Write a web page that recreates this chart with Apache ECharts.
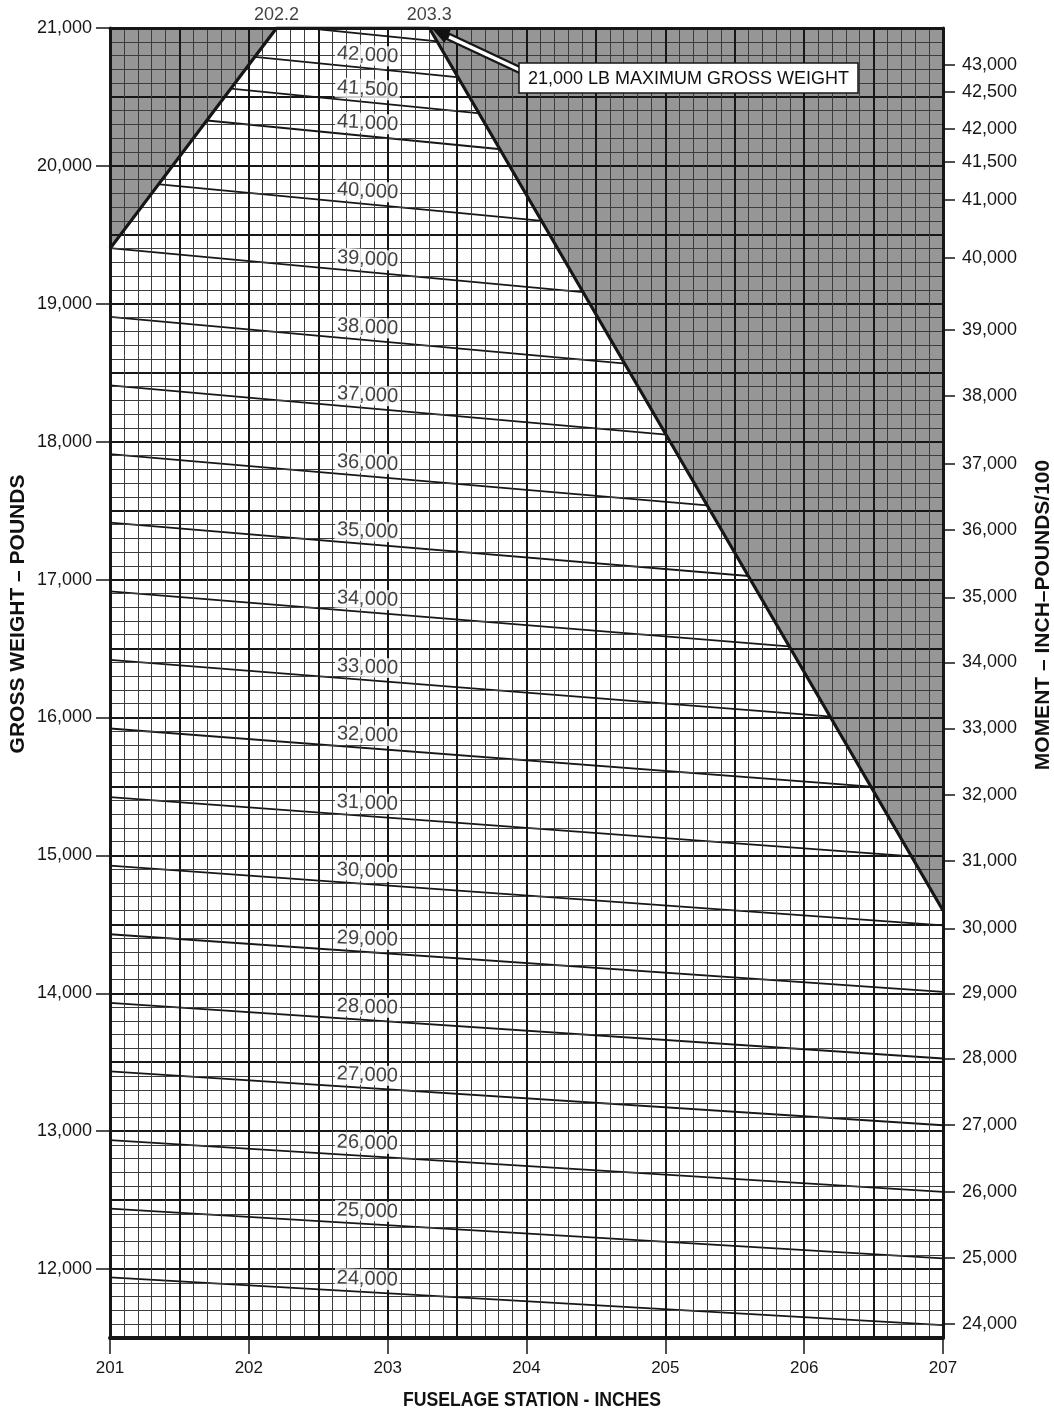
<!DOCTYPE html>
<html><head><meta charset="utf-8">
<style>html,body{margin:0;padding:0;background:#fff}#c{width:1054px;height:1414px}</style>
<script src="https://cdn.jsdelivr.net/npm/echarts@6/dist/echarts.min.js"></script>
</head><body><div id="c"></div>
<script>
// ---- data ----
const xTicks = [201, 202, 203, 204, 205, 206, 207];
const leftTicks = [12000, 13000, 14000, 15000, 16000, 17000, 18000, 19000, 20000, 21000];
const momentValues = [24000, 25000, 26000, 27000, 28000, 29000, 30000, 31000, 32000, 33000, 34000, 35000, 36000, 37000, 38000, 39000, 40000, 41000, 41500, 42000, 42500];
const weightAt201  = [11940, 12438, 12935, 13433, 13930, 14428, 14925, 15423, 15920, 16418, 16915, 17413, 17910, 18408, 18905, 19403, 19900, 20398, 20647, 20896, 21144];
const weightAt207  = [11594, 12077, 12560, 13043, 13527, 14010, 14493, 14976, 15459, 15942, 16425, 16908, 17391, 17874, 18357, 18841, 19324, 19807, 20048, 20290, 20531];
const labeledMoments = [24000, 25000, 26000, 27000, 28000, 29000, 30000, 31000, 32000, 33000, 34000, 35000, 36000, 37000, 38000, 39000, 40000, 41000, 41500, 42000];
const rightTickMoments = [24000, 25000, 26000, 27000, 28000, 29000, 30000, 31000, 32000, 33000, 34000, 35000, 36000, 37000, 38000, 39000, 40000, 41000, 41500, 42000, 42500, 43000];
const rightTickWeights = [11600, 12080, 12560, 13043, 13527, 14000, 14470, 14960, 15440, 15920, 16400, 16870, 17360, 17840, 18330, 18810, 19333, 19754, 20029, 20268, 20536, 20732];
const envelopeStation = [201, 202.2, 203.3, 207];
const envelopeWeight  = [19400, 21000, 21000, 14600];
const topLabelStations = [202.2, 203.3];
const topLabels = ['202.2', '203.3'];
const maxGrossText = '21,000 LB MAXIMUM GROSS WEIGHT';
const labelStation = 202.85;

const FONT = '"Liberation Sans", Arial, Helvetica, sans-serif';
const INK = '#161616';
const X_MIN = 201, X_MAX = 207, Y_MIN = 11500, Y_MAX = 21000;
const G = {left: 110, right: 111, top: 28, bottom: 76};
const pxPerIn = (1054 - G.left - G.right) / (X_MAX - X_MIN);
const pxPerLb = (1414 - G.top - G.bottom) / (Y_MAX - Y_MIN);
const fmt = v => Math.round(v).toLocaleString('en-US');

const chart = echarts.init(document.getElementById('c'), null, {renderer: 'canvas'});

const momentSeries = momentValues.map((m, i) => ({
  type: 'line', name: 'M' + m, z: 1, silent: true, clip: true,
  symbol: 'none', animation: false,
  lineStyle: {color: INK, width: 1.8},
  data: [[X_MIN, weightAt201[i]], [X_MAX, weightAt207[i]]]
}));

const labelData = labeledMoments.map(m => {
  const i = momentValues.indexOf(m);
  const w = weightAt201[i] + (weightAt207[i] - weightAt201[i]) * (labelStation - X_MIN) / (X_MAX - X_MIN);
  const slope = (weightAt201[i] - weightAt207[i]) / (X_MAX - X_MIN) * pxPerLb / pxPerIn;
  const ang = Math.atan(slope) * 180 / Math.PI * 0.6;
  return {value: [labelStation, w, m], label: {rotate: -ang}};
});

const leftShade = [[envelopeStation[0], envelopeWeight[0]], [envelopeStation[1], envelopeWeight[1]], [X_MIN, Y_MAX]];
const rightShade = [[envelopeStation[2], envelopeWeight[2]], [envelopeStation[3], envelopeWeight[3]], [X_MAX, Y_MAX]];

const majorLine = {show: true, lineStyle: {color: INK, width: 2}};
const minorLine = {show: true, lineStyle: {color: '#3c3c3c', width: 1}};

const option = {
  animation: false,
  backgroundColor: '#fff',
  textStyle: {fontFamily: FONT},
  grid: {left: G.left, right: G.right, top: G.top, bottom: G.bottom, containLabel: false},
  xAxis: [{
    type: 'value', min: X_MIN, max: X_MAX, interval: 1, position: 'bottom', z: 3,
    axisLine: {show: true, onZero: false, lineStyle: {color: INK, width: 4}},
    axisTick: {show: true, length: 16, lineStyle: {color: INK, width: 1.5}},
    axisLabel: {margin: 22, fontSize: 17, color: INK, fontFamily: FONT, formatter: v => String(Math.round(v))},
    splitLine: {show: false}
  }, {
    type: 'value', min: X_MIN, max: X_MAX, interval: 0.5, position: 'top', z: 3,
    axisLine: {show: true, onZero: false, lineStyle: {color: INK, width: 3}},
    axisTick: {show: false}, axisLabel: {show: false},
    splitLine: majorLine,
    minorTick: {show: false, splitNumber: 5},
    minorSplitLine: minorLine
  }],
  yAxis: [{
    type: 'value', min: Y_MIN, max: Y_MAX, interval: 500, position: 'left', z: 3,
    axisLine: {show: true, onZero: false, lineStyle: {color: INK, width: 3}},
    axisTick: {show: true, customValues: leftTicks, length: 14, lineStyle: {color: INK, width: 1.5}},
    axisLabel: {customValues: leftTicks, margin: 18, fontSize: 18, color: INK, fontFamily: FONT, formatter: v => fmt(v)},
    splitLine: {show: false}
  }, {
    type: 'value', min: Y_MIN, max: Y_MAX, position: 'right', z: 3,
    axisLine: {show: true, onZero: false, lineStyle: {color: INK, width: 3}},
    axisTick: {show: true, customValues: rightTickWeights, length: 12, lineStyle: {color: INK, width: 1.5}},
    axisLabel: {customValues: rightTickWeights, margin: 19, fontSize: 18, color: INK, fontFamily: FONT,
      formatter: v => {
        const k = rightTickWeights.findIndex(w => Math.abs(w - v) < 0.5);
        return k >= 0 ? fmt(rightTickMoments[k]) : '';
      }},
    splitLine: {show: false}
  }, {
    type: 'value', min: Y_MIN, max: Y_MAX, interval: 500, position: 'left', z: 3,
    axisLine: {show: false}, axisTick: {show: false}, axisLabel: {show: false},
    splitLine: majorLine,
    minorTick: {show: false, splitNumber: 5},
    minorSplitLine: minorLine
  }],
  series: [
    ...momentSeries,
    {
      type: 'custom', name: 'shade', z: 2, silent: true,
      data: [[X_MIN, Y_MAX]],
      renderItem: (params, api) => {
        const poly = pts => ({type: 'polygon', shape: {points: pts.map(p => api.coord(p))}, style: {fill: '#969696', stroke: null}});
        return {type: 'group', children: [poly(leftShade), poly(rightShade)]};
      }
    },
    {
      type: 'line', name: 'envelope', z: 10, silent: true, symbol: 'none',
      lineStyle: {color: INK, width: 3.2},
      data: envelopeStation.map((s, i) => [s, envelopeWeight[i]])
    },
    {
      type: 'scatter', name: 'momentLabels', z: 12, silent: true,
      symbolSize: 1, itemStyle: {color: 'rgba(0,0,0,0)'},
      label: {show: true, position: 'inside', offset: [0, -13], fontSize: 20, color: '#111', fontFamily: FONT,
        backgroundColor: '#fff', padding: [0, 2, 0, 2], formatter: p => fmt(p.value[2])},
      data: labelData
    },
    {
      type: 'scatter', name: 'topLabels', z: 12, silent: true,
      symbolSize: 1, itemStyle: {color: 'rgba(0,0,0,0)'},
      label: {show: true, position: 'top', distance: 3, fontSize: 18, color: '#111', fontFamily: FONT,
        formatter: p => topLabels[p.dataIndex]},
      data: topLabelStations.map(s => [s, Y_MAX])
    }
  ]
};
chart.setOption(option);

// annotation arrow + box, titles
const p = chart.convertToPixel({xAxisIndex: 0, yAxisIndex: 0}, [envelopeStation[2], envelopeWeight[2]]);
const tip = [p[0] + 3, p[1] + 1];
const tail = [524, 72];
const dx = tail[0] - tip[0], dy = tail[1] - tip[1], L = Math.hypot(dx, dy);
const ux = dx / L, uy = dy / L, nx = -uy, ny = ux;
const headLen = 17, headW = 7.5;
const base = [tip[0] + ux * headLen, tip[1] + uy * headLen];
const boxX = 519, boxY = 63, boxW = 339, boxH = 30;
const centered = {align: 'center', verticalAlign: 'middle', textAlign: 'center', textVerticalAlign: 'middle'};

chart.setOption({
  graphic: [
    {type: 'line', z: 100, shape: {x1: base[0] - ux * 2, y1: base[1] - uy * 2, x2: tail[0], y2: tail[1]}, style: {stroke: INK, lineWidth: 8}},
    {type: 'line', z: 101, shape: {x1: base[0] + ux * 1.5, y1: base[1] + uy * 1.5, x2: tail[0], y2: tail[1]}, style: {stroke: '#fff', lineWidth: 3.5}},
    {type: 'polygon', z: 102, shape: {points: [tip, [base[0] + nx * headW, base[1] + ny * headW], [base[0] - nx * headW, base[1] - ny * headW]]}, style: {fill: '#111'}},
    {type: 'rect', z: 103, shape: {x: boxX, y: boxY, width: boxW, height: boxH}, style: {fill: '#fff', stroke: INK, lineWidth: 1.5}},
    {type: 'text', z: 104, x: boxX + boxW / 2, y: boxY + boxH / 2 + 1,
      style: Object.assign({text: maxGrossText, font: '18px ' + FONT, fill: '#111'}, centered)},
    {type: 'text', z: 104, x: 18, y: 614, rotation: Math.PI / 2,
      style: Object.assign({text: 'GROSS WEIGHT – POUNDS', font: 'bold 21px ' + FONT, fill: '#111'}, centered)},
    {type: 'text', z: 104, x: 1043, y: 615, rotation: Math.PI / 2,
      style: Object.assign({text: 'MOMENT – INCH–POUNDS/100', font: 'bold 21px ' + FONT, fill: '#111'}, centered)},
    {type: 'text', z: 104, x: 532, y: 1400, scaleX: 0.84,
      style: Object.assign({text: 'FUSELAGE STATION - INCHES', font: 'bold 21px ' + FONT, fill: '#111'}, centered)}
  ]
});
</script>
</body></html>
